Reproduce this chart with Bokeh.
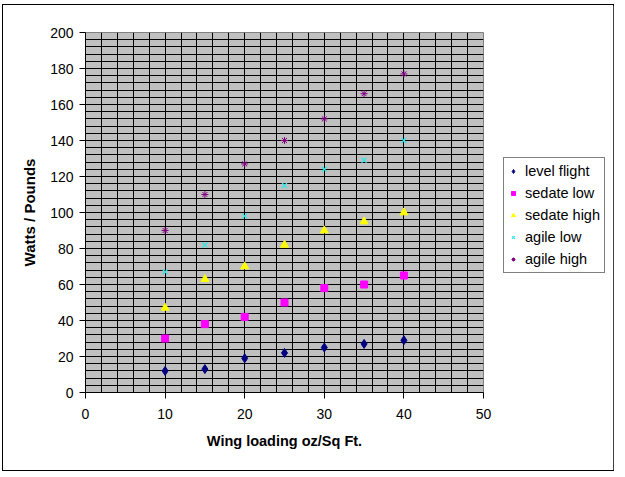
import numpy as np
from bokeh.plotting import figure
from bokeh.models import FixedTicker, Range1d, Legend, LegendItem
from bokeh.embed import file_html
from bokeh.resources import INLINE

wing_loading = [10, 15, 20, 25, 30, 35, 40]
level_flight = [12, 13, 19, 22, 25, 27, 29]
sedate_low = [30, 38, 42, 50, 58, 60, 65]
sedate_high = [47, 63, 70, 82, 90, 95, 100]
agile_low = [67, 82, 98, 115, 124, 129, 140]
agile_high = [90, 110, 127, 140, 152, 166, 177]

x_ticks = [0, 10, 20, 30, 40, 50]
y_ticks = [0, 20, 40, 60, 80, 100, 120, 140, 160, 180, 200]

FONT = "Liberation Sans"

p = figure(frame_width=398, frame_height=360, output_backend="svg", toolbar_location=None,
           x_range=Range1d(0, 50), y_range=Range1d(0, 200),
           background_fill_color="#C0C0C0", border_fill_color="white",
           min_border_left=82, min_border_right=130, min_border_top=27, min_border_bottom=78,
           styles={"margin-left": "3px", "margin-top": "5px", "outline": "1px solid black",
                   "width": "610px", "height": "465px"})
p.outline_line_color = "#808080"

# grid
p.xgrid.ticker = FixedTicker(ticks=list(np.arange(0, 51, 2)))
p.ygrid.ticker = FixedTicker(ticks=list(np.arange(0, 201, 4)))
for g in (p.xgrid, p.ygrid):
    g.grid_line_color = "black"
    g.grid_line_width = 1
    g.grid_line_alpha = 1

for ax, ticks in ((p.xaxis, x_ticks), (p.yaxis, y_ticks)):
    ax.ticker = FixedTicker(ticks=ticks)
    ax.axis_line_color = "black"
    ax.major_tick_line_color = "black"
    ax.major_tick_out = 6
    ax.major_tick_in = 0
    ax.minor_tick_line_color = None
    ax.major_label_text_font = FONT
    ax.major_label_text_font_size = "14px"
    ax.major_label_text_color = "black"
    ax.axis_label_text_font = FONT
    ax.axis_label_text_font_size = "14.5px"
    ax.axis_label_text_font_style = "bold"
    ax.axis_label_text_color = "black"

p.yaxis.axis_label_text_font_size = "15px"
p.xaxis.axis_label = "Wing loading oz/Sq Ft."
p.yaxis.axis_label = "Watts / Pounds"
p.xaxis.major_label_standoff = 10
p.yaxis.major_label_standoff = 6
p.xaxis.axis_label_standoff = 11
p.yaxis.axis_label_standoff = 9

r1 = p.scatter(wing_loading, level_flight, marker="diamond", size=9, color="#000080")
r2 = p.scatter(wing_loading, sedate_low, marker="square", size=7, color="#FF00FF")
r3 = p.scatter(wing_loading, sedate_high, marker="triangle", size=8, color="#FFFF00")
r4 = p.scatter(wing_loading, agile_low, marker="x", size=7, line_color="#33E5E5", line_width=1.3)
r5 = p.scatter(wing_loading, agile_high, marker="asterisk", size=7, line_color="#800080", line_width=1)

legend = Legend(items=[
    LegendItem(label="level flight", renderers=[r1]),
    LegendItem(label="sedate low", renderers=[r2]),
    LegendItem(label="sedate high", renderers=[r3]),
    LegendItem(label="agile low", renderers=[r4]),
    LegendItem(label="agile high", renderers=[r5]),
], location=(20, 119))
legend.label_text_font = FONT
legend.label_text_font_size = "14.5px"
legend.label_text_color = "black"
legend.border_line_color = "black"
legend.border_line_width = 1
legend.background_fill_color = "white"
legend.background_fill_alpha = 1
legend.glyph_width = 10
legend.glyph_height = 10
legend.spacing = 4
legend.padding = 4
legend.margin = 0
legend.label_standoff = 7
legend.label_height = 18
p.add_layout(legend, "right")

open("out.html", "w").write(file_html(p, INLINE))
